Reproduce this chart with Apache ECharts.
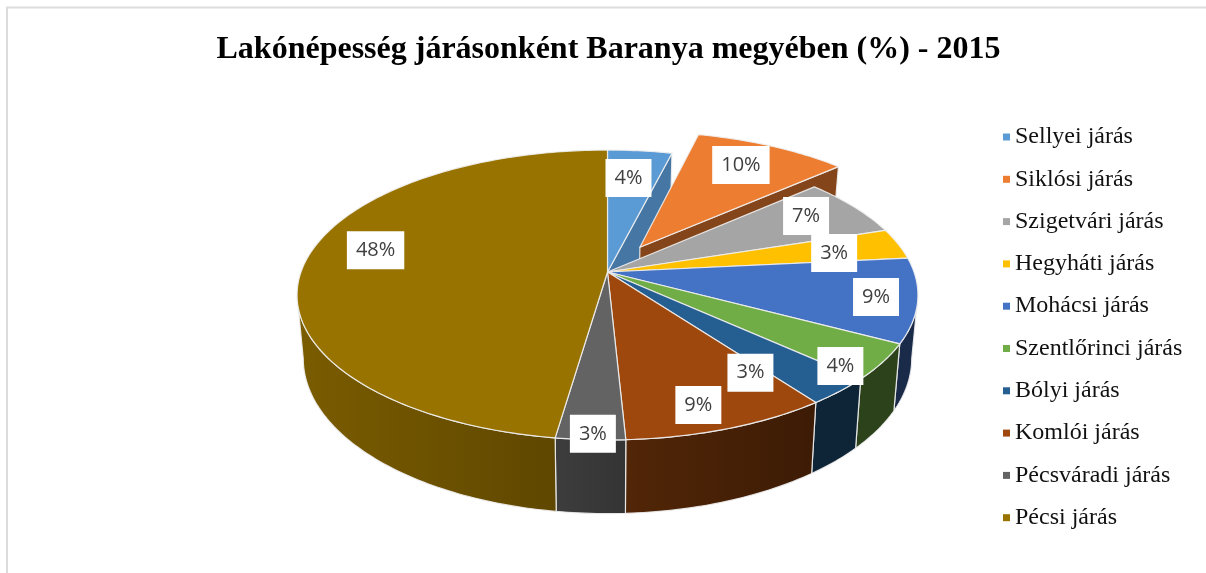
<!DOCTYPE html>
<html>
<head>
<meta charset="utf-8">
<style>html,body{margin:0;padding:0;background:#fff}#c{width:1206px;height:573px}</style>
<script src="https://cdn.jsdelivr.net/npm/echarts@6/dist/echarts.min.js"></script>
</head>
<body>
<div id="c"></div>
<script>
const categories = ['Sellyei járás','Siklósi járás','Szigetvári járás','Hegyháti járás','Mohácsi járás','Szentlőrinci járás','Bólyi járás','Komlói járás','Pécsváradi járás','Pécsi járás'];
const values = [3.9,9.5,6.6,3.4,9.4,4.0,3.1,9.3,3.1,47.7];
const colors = ['#5B9BD5','#ED7D31','#A5A5A5','#FFC000','#4472C4','#70AD47','#255E91','#9E480E','#636363','#997300'];
const explodedShare = [0,0.21,0,0,0,0,0,0,0,0];
const labelReach = [0.756,0.79,0.815,0.77,0.869,0.91,0.761,0.853,0.965,0.794];
const labelTurn = [-1.2,-1.84,-2,1.1,-0.2,5.6,8.5,2,-0.3,7.9];

// perspective model of the pie disc
const cx = 607.5, cy = 272, spanX = 306.5, spanY = 141.3, persp = 0.1586, depth = 62, baseScale = 0.98;
const rad = d => d * Math.PI / 180;
const total = values.reduce((a, b) => a + b, 0);
let run = 0;
const slices = values.map(v => { const s = run / total * 360; run += v; return [s, run / total * 360]; });

function project(theta, r, i, low) {
  const mid = (slices[i][0] + slices[i][1]) / 2, e = explodedShare[i];
  const u = r * Math.sin(rad(theta)) + e * Math.sin(rad(mid));
  const v = r * Math.cos(rad(theta)) + e * Math.cos(rad(mid));
  const w = 1 + persp * v;
  const x = spanX * u / w, y = cy - spanY * v / w;
  return low ? [cx + baseScale * x, y + depth / w] : [cx + x, y];
}
function arc(a, b, i, low) {
  const pts = [], n = Math.max(2, Math.ceil(Math.abs(b - a)));
  for (let k = 0; k <= n; k++) pts.push(project(a + (b - a) * k / n, 1, i, low));
  return pts;
}
function shade(hex, f) {
  const n = parseInt(hex.slice(1), 16);
  const c = s => Math.round(((n >> s) & 255) * f);
  return 'rgb(' + c(16) + ',' + c(8) + ',' + c(0) + ')';
}
const wallStops = [[0,0.38],[144,0.38],[177,0.52],[188,0.62],[260.8,0.8]];
function wallFactor(t) {
  for (let k = 1; k < wallStops.length; k++) {
    const [t0, f0] = wallStops[k - 1], [t1, f1] = wallStops[k];
    if (t <= t1) return f0 + (f1 - f0) * (t - t0) / (t1 - t0);
  }
  return 0.8;
}
const edge = 'rgba(240,240,240,0.9)';

function renderSlice(i) {
  return function () {
    const [a, b] = slices[i], col = colors[i], kids = [];
    const lo = Math.max(a, 99.2), hi = Math.min(b, 260.8);
    if (hi > lo) {
      kids.push({
        type: 'polygon', z2: 1,
        shape: { points: arc(lo, hi, i, false).concat(arc(lo, hi, i, true).reverse()) },
        style: {
          fill: new echarts.graphic.LinearGradient(0, 0, 1, 0, [
            { offset: 0, color: shade(col, wallFactor(hi)) },
            { offset: 1, color: shade(col, wallFactor(lo)) }
          ]),
          stroke: edge, lineWidth: 1.2
        }
      });
    }
    // cut faces facing the gap left by the pulled-out slice
    if (i === 0 || i === 1) {
      const f = i === 0 ? 0.77 : 0.555;
      kids.push({
        type: 'polygon', z2: 2 + i,
        shape: { points: [project(b, 0, i, false), project(b, 1, i, false), project(b, 1, i, true), project(b, 0, i, true)] },
        style: { fill: shade(col, f), stroke: edge, lineWidth: 1.2 }
      });
    }
    const top = [project(a, 0, i, false)].concat(arc(a, b, i, false));
    kids.push({
      type: 'polygon', z2: i === 1 ? 4 : 5,
      shape: { points: top },
      style: { fill: col, stroke: edge, lineWidth: 1.2, lineJoin: 'round' }
    });
    const at = project((a + b) / 2 + labelTurn[i], labelReach[i], i, false);
    kids.push({
      type: 'text', z2: 10 + i, x: at[0], y: at[1] + 1,
      style: {
        text: Math.round(values[i] / total * 100) + '%',
        font: '20px "Open Sans"', fill: '#404040', align: 'center', verticalAlign: 'middle',
        backgroundColor: '#fff', padding: [8, 9], lineHeight: 22
      }
    });
    return { type: 'group', children: kids };
  };
}

const chart = echarts.init(document.getElementById('c'), null, { renderer: 'canvas' });
chart.setOption({
  animation: false,
  title: {
    text: 'Lakónépesség járásonként Baranya megyében (%) - 2015',
    left: 603.5, textAlign: 'center', top: 29,
    textStyle: { fontFamily: '"Liberation Serif"', fontWeight: 'bold', fontSize: 32, color: '#000' }
  },
  legend: {
    orient: 'vertical', left: 998, top: 120, icon: 'rect', itemWidth: 7, itemHeight: 7,
    itemGap: 18.3, selectedMode: false,
    textStyle: { fontFamily: '"Liberation Serif"', fontSize: 24, color: '#111', lineHeight: 22 },
    data: categories
  },
  graphic: [{
    type: 'rect', z: -1, silent: true,
    shape: { x: 7, y: 7.5, width: 1400, height: 800 },
    style: { fill: 'none', stroke: '#dcdcdc', lineWidth: 2 }
  }],
  series: categories.map((name, i) => ({
    type: 'custom', name, coordinateSystem: 'none',
    data: [values[i]], itemStyle: { color: colors[i] },
    renderItem: renderSlice(i), silent: true
  }))
});
</script>
</body>
</html>
